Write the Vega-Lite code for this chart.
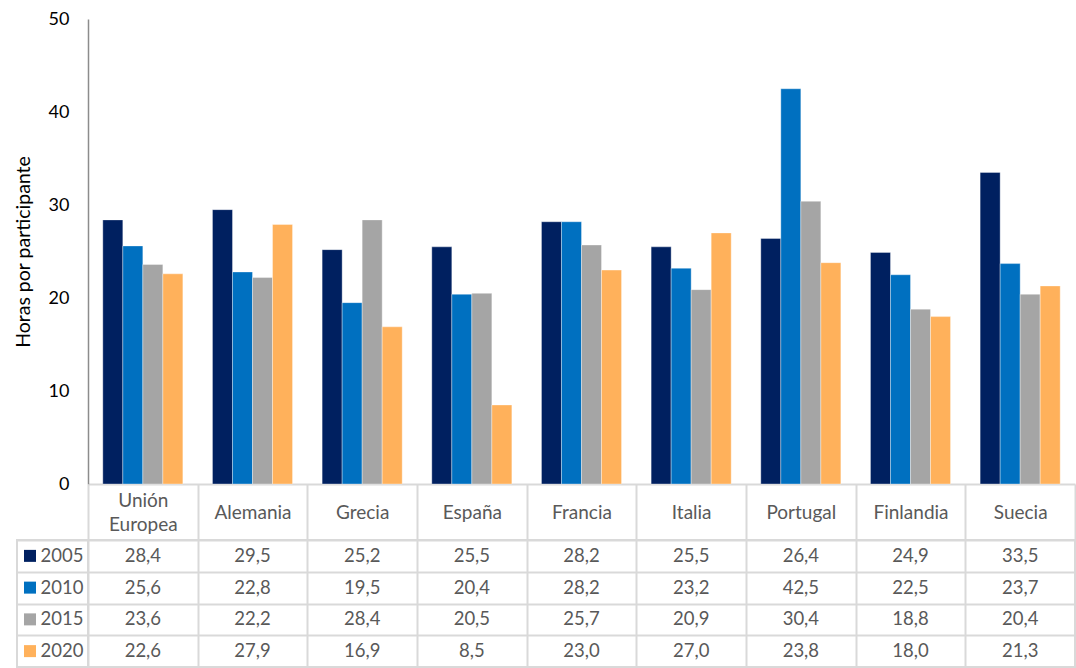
{
  "$schema": "https://vega.github.io/schema/vega-lite/v6.json",
  "padding": {"left": 13, "top": 10, "right": 0, "bottom": 0},
  "autosize": {"type": "pad"},
  "background": "white",
  "config": {
    "locale": {"number": {"decimal": ",", "thousands": ".", "grouping": [3], "currency": ["", " €"]}},
    "font": "Lato"
  },
  "bounds": "flush",
  "align": "each",
  "columns": 2,
  "spacing": {"row": 56, "column": 0},
  "data": {"values": [
    {"pais": "Unión Europea", "anio": "2005", "horas": 28.4},
    {"pais": "Unión Europea", "anio": "2010", "horas": 25.6},
    {"pais": "Unión Europea", "anio": "2015", "horas": 23.6},
    {"pais": "Unión Europea", "anio": "2020", "horas": 22.6},
    {"pais": "Alemania", "anio": "2005", "horas": 29.5},
    {"pais": "Alemania", "anio": "2010", "horas": 22.8},
    {"pais": "Alemania", "anio": "2015", "horas": 22.2},
    {"pais": "Alemania", "anio": "2020", "horas": 27.9},
    {"pais": "Grecia", "anio": "2005", "horas": 25.2},
    {"pais": "Grecia", "anio": "2010", "horas": 19.5},
    {"pais": "Grecia", "anio": "2015", "horas": 28.4},
    {"pais": "Grecia", "anio": "2020", "horas": 16.9},
    {"pais": "España", "anio": "2005", "horas": 25.5},
    {"pais": "España", "anio": "2010", "horas": 20.4},
    {"pais": "España", "anio": "2015", "horas": 20.5},
    {"pais": "España", "anio": "2020", "horas": 8.5},
    {"pais": "Francia", "anio": "2005", "horas": 28.2},
    {"pais": "Francia", "anio": "2010", "horas": 28.2},
    {"pais": "Francia", "anio": "2015", "horas": 25.7},
    {"pais": "Francia", "anio": "2020", "horas": 23.0},
    {"pais": "Italia", "anio": "2005", "horas": 25.5},
    {"pais": "Italia", "anio": "2010", "horas": 23.2},
    {"pais": "Italia", "anio": "2015", "horas": 20.9},
    {"pais": "Italia", "anio": "2020", "horas": 27.0},
    {"pais": "Portugal", "anio": "2005", "horas": 26.4},
    {"pais": "Portugal", "anio": "2010", "horas": 42.5},
    {"pais": "Portugal", "anio": "2015", "horas": 30.4},
    {"pais": "Portugal", "anio": "2020", "horas": 23.8},
    {"pais": "Finlandia", "anio": "2005", "horas": 24.9},
    {"pais": "Finlandia", "anio": "2010", "horas": 22.5},
    {"pais": "Finlandia", "anio": "2015", "horas": 18.8},
    {"pais": "Finlandia", "anio": "2020", "horas": 18.0},
    {"pais": "Suecia", "anio": "2005", "horas": 33.5},
    {"pais": "Suecia", "anio": "2010", "horas": 23.7},
    {"pais": "Suecia", "anio": "2015", "horas": 20.4},
    {"pais": "Suecia", "anio": "2020", "horas": 21.3}
  ]},
  "concat": [
    {
      "width": 71,
      "height": 465,
      "view": {"stroke": null},
      "data": {"values": [{}]},
      "mark": {"type": "text", "text": ""},
      "encoding": {}
    },
    {
      "width": 987,
      "height": 465,
      "view": {"stroke": null},
      "mark": {"type": "bar", "stroke": "#ffffff", "strokeWidth": 0.7, "strokeOpacity": 0.5},
      "encoding": {
        "x": {
          "field": "pais", "type": "nominal",
          "sort": ["Unión Europea", "Alemania", "Grecia", "España", "Francia", "Italia", "Portugal", "Finlandia", "Suecia"],
          "scale": {"paddingInner": 0.27, "paddingOuter": 0.135},
          "axis": {"labels": false, "ticks": false, "title": null, "domainColor": "#d9d9d9", "domainWidth": 2}
        },
        "xOffset": {
          "field": "anio", "type": "nominal",
          "sort": ["2005", "2010", "2015", "2020"],
          "scale": {"paddingInner": 0, "paddingOuter": 0}
        },
        "y": {
          "field": "horas", "type": "quantitative",
          "scale": {"domain": [0, 50], "nice": false},
          "axis": {
            "values": [0, 10, 20, 30, 40, 50],
            "title": "Horas por participante",
            "grid": false, "ticks": false, "tickSize": 0,
            "labelPadding": 19, "labelFontSize": 18, "labelColor": "#000000",
            "titleFontSize": 19.5, "titleFontWeight": "normal", "titleColor": "#000000",
            "titlePadding": 15,
            "domainColor": "#8c8c8c", "domainWidth": 1.5
          }
        },
        "color": {
          "field": "anio", "type": "nominal",
          "scale": {"domain": ["2005", "2010", "2015", "2020"], "range": ["#002060", "#0070c0", "#a5a5a5", "#ffb15b"]},
          "legend": null
        }
      }
    },
    {
      "width": 71,
      "height": 127,
      "view": {"stroke": "#d9d9d9", "strokeWidth": 2},
      "transform": [{"filter": "datum.pais === 'Unión Europea'"}],
      "encoding": {
        "y": {
          "field": "anio", "type": "nominal",
          "sort": ["2005", "2010", "2015", "2020"],
          "scale": {"paddingInner": 0, "paddingOuter": 0},
          "axis": {"title": null, "labels": false, "ticks": false, "domain": false, "grid": true, "tickBand": "extent", "gridColor": "#d9d9d9", "gridWidth": 2}
        }
      },
      "layer": [
        {
          "mark": {"type": "point", "shape": "square", "filled": true, "size": 144, "opacity": 1, "xOffset": -22.5},
          "encoding": {
            "color": {
              "field": "anio", "type": "nominal",
              "scale": {"domain": ["2005", "2010", "2015", "2020"], "range": ["#002060", "#0070c0", "#a5a5a5", "#ffb15b"]},
              "legend": null
            }
          }
        },
        {
          "mark": {"type": "text", "align": "left", "baseline": "middle", "dx": -12, "fontSize": 18.5, "color": "#595959"},
          "encoding": {"text": {"field": "anio", "type": "nominal"}}
        }
      ]
    },
    {
      "width": 987,
      "height": 127,
      "view": {"stroke": "#d9d9d9", "strokeWidth": 2},
      "mark": {"type": "text", "fontSize": 18.5, "color": "#595959", "baseline": "middle"},
      "encoding": {
        "x": {
          "field": "pais", "type": "nominal",
          "sort": ["Unión Europea", "Alemania", "Grecia", "España", "Francia", "Italia", "Portugal", "Finlandia", "Suecia"],
          "scale": {"paddingInner": 0, "paddingOuter": 0},
          "axis": {
            "orient": "top", "title": null, "tickBand": "extent",
            "grid": true, "gridColor": "#d9d9d9", "gridWidth": 2,
            "ticks": true, "tickSize": 56, "tickColor": "#d9d9d9", "tickWidth": 2,
            "domain": false,
            "labelPadding": {"condition": {"test": "datum.value === 'Unión Europea'", "value": -16}, "value": -28},
            "labelBaseline": "middle", "labelAngle": 0,
            "labelFontSize": 19, "labelColor": "#595959", "labelLineHeight": 24,
            "labelExpr": "datum.label === 'Unión Europea' ? ['Unión', 'Europea'] : datum.label"
          }
        },
        "y": {
          "field": "anio", "type": "nominal",
          "sort": ["2005", "2010", "2015", "2020"],
          "scale": {"paddingInner": 0, "paddingOuter": 0},
          "axis": {"title": null, "labels": false, "ticks": false, "domain": false, "grid": true, "tickBand": "extent", "gridColor": "#d9d9d9", "gridWidth": 2}
        },
        "text": {"field": "horas", "type": "quantitative", "format": ".1f"}
      }
    }
  ]
}
